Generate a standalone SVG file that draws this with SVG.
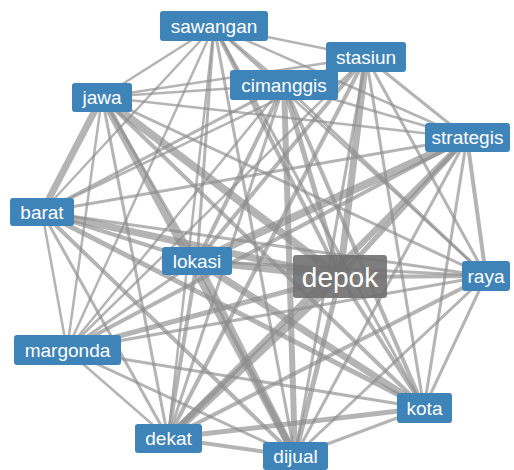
<svg xmlns="http://www.w3.org/2000/svg" width="514" height="470" viewBox="0 0 514 470">
<style>
.e line{stroke:#8c8c8c;stroke-opacity:0.65;fill:none}
.n rect{fill:#3f84b8;rx:3px}
.n text{fill:#fff;font-family:"Liberation Sans",Arial,sans-serif;font-size:19px;text-anchor:middle;dominant-baseline:central}
#depok rect{fill:#707070;fill-opacity:0.9}
#depok text{font-size:28px}
</style>
<rect width="514" height="470" fill="#fff"/>
<g id="connectors" class="e">
<line x1="214" y1="26" x2="366" y2="57" stroke-width="2.5"/>
<line x1="214" y1="26" x2="284" y2="85" stroke-width="3"/>
<line x1="214" y1="26" x2="102" y2="97" stroke-width="2.5"/>
<line x1="214" y1="26" x2="467" y2="138" stroke-width="2.5"/>
<line x1="214" y1="26" x2="42" y2="212" stroke-width="2.5"/>
<line x1="214" y1="26" x2="197" y2="261" stroke-width="3"/>
<line x1="214" y1="26" x2="340" y2="277" stroke-width="4"/>
<line x1="214" y1="26" x2="486" y2="276" stroke-width="2.5"/>
<line x1="214" y1="26" x2="67" y2="350" stroke-width="2.5"/>
<line x1="214" y1="26" x2="424" y2="408" stroke-width="3"/>
<line x1="214" y1="26" x2="168" y2="438" stroke-width="2.5"/>
<line x1="214" y1="26" x2="295" y2="456" stroke-width="3"/>
<line x1="366" y1="57" x2="284" y2="85" stroke-width="3"/>
<line x1="366" y1="57" x2="102" y2="97" stroke-width="2.5"/>
<line x1="366" y1="57" x2="467" y2="138" stroke-width="3"/>
<line x1="366" y1="57" x2="42" y2="212" stroke-width="2.5"/>
<line x1="366" y1="57" x2="197" y2="261" stroke-width="4"/>
<line x1="366" y1="57" x2="340" y2="277" stroke-width="7"/>
<line x1="366" y1="57" x2="486" y2="276" stroke-width="3"/>
<line x1="366" y1="57" x2="67" y2="350" stroke-width="2.5"/>
<line x1="366" y1="57" x2="424" y2="408" stroke-width="3"/>
<line x1="366" y1="57" x2="168" y2="438" stroke-width="4"/>
<line x1="366" y1="57" x2="295" y2="456" stroke-width="3"/>
<line x1="284" y1="85" x2="102" y2="97" stroke-width="2.5"/>
<line x1="284" y1="85" x2="467" y2="138" stroke-width="2.5"/>
<line x1="284" y1="85" x2="42" y2="212" stroke-width="3"/>
<line x1="284" y1="85" x2="197" y2="261" stroke-width="4"/>
<line x1="284" y1="85" x2="340" y2="277" stroke-width="5"/>
<line x1="284" y1="85" x2="486" y2="276" stroke-width="3"/>
<line x1="284" y1="85" x2="67" y2="350" stroke-width="2.5"/>
<line x1="284" y1="85" x2="424" y2="408" stroke-width="4"/>
<line x1="284" y1="85" x2="168" y2="438" stroke-width="3"/>
<line x1="284" y1="85" x2="295" y2="456" stroke-width="6"/>
<line x1="102" y1="97" x2="467" y2="138" stroke-width="2.5"/>
<line x1="102" y1="97" x2="42" y2="212" stroke-width="7"/>
<line x1="102" y1="97" x2="197" y2="261" stroke-width="3"/>
<line x1="102" y1="97" x2="340" y2="277" stroke-width="8"/>
<line x1="102" y1="97" x2="486" y2="276" stroke-width="3"/>
<line x1="102" y1="97" x2="67" y2="350" stroke-width="2.5"/>
<line x1="102" y1="97" x2="424" y2="408" stroke-width="4"/>
<line x1="102" y1="97" x2="168" y2="438" stroke-width="3"/>
<line x1="102" y1="97" x2="295" y2="456" stroke-width="7"/>
<line x1="467" y1="138" x2="42" y2="212" stroke-width="3"/>
<line x1="467" y1="138" x2="197" y2="261" stroke-width="8"/>
<line x1="467" y1="138" x2="340" y2="277" stroke-width="5"/>
<line x1="467" y1="138" x2="486" y2="276" stroke-width="4"/>
<line x1="467" y1="138" x2="67" y2="350" stroke-width="4"/>
<line x1="467" y1="138" x2="424" y2="408" stroke-width="3"/>
<line x1="467" y1="138" x2="168" y2="438" stroke-width="6"/>
<line x1="467" y1="138" x2="295" y2="456" stroke-width="3"/>
<line x1="42" y1="212" x2="197" y2="261" stroke-width="4"/>
<line x1="42" y1="212" x2="340" y2="277" stroke-width="7"/>
<line x1="42" y1="212" x2="486" y2="276" stroke-width="3"/>
<line x1="42" y1="212" x2="67" y2="350" stroke-width="2.5"/>
<line x1="42" y1="212" x2="424" y2="408" stroke-width="5"/>
<line x1="42" y1="212" x2="168" y2="438" stroke-width="3"/>
<line x1="42" y1="212" x2="295" y2="456" stroke-width="4"/>
<line x1="197" y1="261" x2="340" y2="277" stroke-width="7"/>
<line x1="197" y1="261" x2="486" y2="276" stroke-width="3"/>
<line x1="197" y1="261" x2="67" y2="350" stroke-width="3"/>
<line x1="197" y1="261" x2="424" y2="408" stroke-width="7"/>
<line x1="197" y1="261" x2="168" y2="438" stroke-width="4"/>
<line x1="197" y1="261" x2="295" y2="456" stroke-width="7"/>
<line x1="340" y1="277" x2="486" y2="276" stroke-width="4"/>
<line x1="340" y1="277" x2="67" y2="350" stroke-width="5"/>
<line x1="340" y1="277" x2="424" y2="408" stroke-width="4"/>
<line x1="340" y1="277" x2="168" y2="438" stroke-width="8"/>
<line x1="340" y1="277" x2="295" y2="456" stroke-width="5"/>
<line x1="486" y1="276" x2="67" y2="350" stroke-width="3"/>
<line x1="486" y1="276" x2="424" y2="408" stroke-width="3"/>
<line x1="486" y1="276" x2="168" y2="438" stroke-width="4"/>
<line x1="486" y1="276" x2="295" y2="456" stroke-width="3"/>
<line x1="67" y1="350" x2="424" y2="408" stroke-width="3"/>
<line x1="67" y1="350" x2="168" y2="438" stroke-width="2.5"/>
<line x1="67" y1="350" x2="295" y2="456" stroke-width="3"/>
<line x1="424" y1="408" x2="168" y2="438" stroke-width="5"/>
<line x1="424" y1="408" x2="295" y2="456" stroke-width="3"/>
<line x1="168" y1="438" x2="295" y2="456" stroke-width="4"/>
</g>
<g id="sawangan" class="n"><rect x="160" y="11" width="108" height="30"/><text x="214" y="26">sawangan</text></g>
<g id="stasiun" class="n"><rect x="326" y="42" width="80" height="30"/><text x="366" y="57">stasiun</text></g>
<g id="cimanggis" class="n"><rect x="230" y="70" width="108" height="30"/><text x="284" y="85">cimanggis</text></g>
<g id="jawa" class="n"><rect x="72" y="83" width="60" height="29"/><text x="102" y="97.5">jawa</text></g>
<g id="strategis" class="n"><rect x="425" y="123" width="85" height="29"/><text x="467.5" y="137.5">strategis</text></g>
<g id="barat" class="n"><rect x="10" y="198" width="64" height="28"/><text x="42" y="212">barat</text></g>
<g id="lokasi" class="n"><rect x="162" y="247" width="70" height="28"/><text x="197" y="261">lokasi</text></g>
<g id="depok" class="n"><rect x="293" y="255" width="94" height="43"/><text x="340" y="277">depok</text></g>
<g id="raya" class="n"><rect x="462" y="261" width="48" height="30"/><text x="486" y="276">raya</text></g>
<g id="margonda" class="n"><rect x="14" y="335" width="107" height="30"/><text x="67.5" y="350">margonda</text></g>
<g id="kota" class="n"><rect x="397" y="393" width="55" height="30"/><text x="424.5" y="408">kota</text></g>
<g id="dekat" class="n"><rect x="135" y="424" width="67" height="29"/><text x="168.5" y="438.5">dekat</text></g>
<g id="dijual" class="n"><rect x="263" y="442" width="65" height="28"/><text x="295.5" y="456">dijual</text></g>
</svg>
